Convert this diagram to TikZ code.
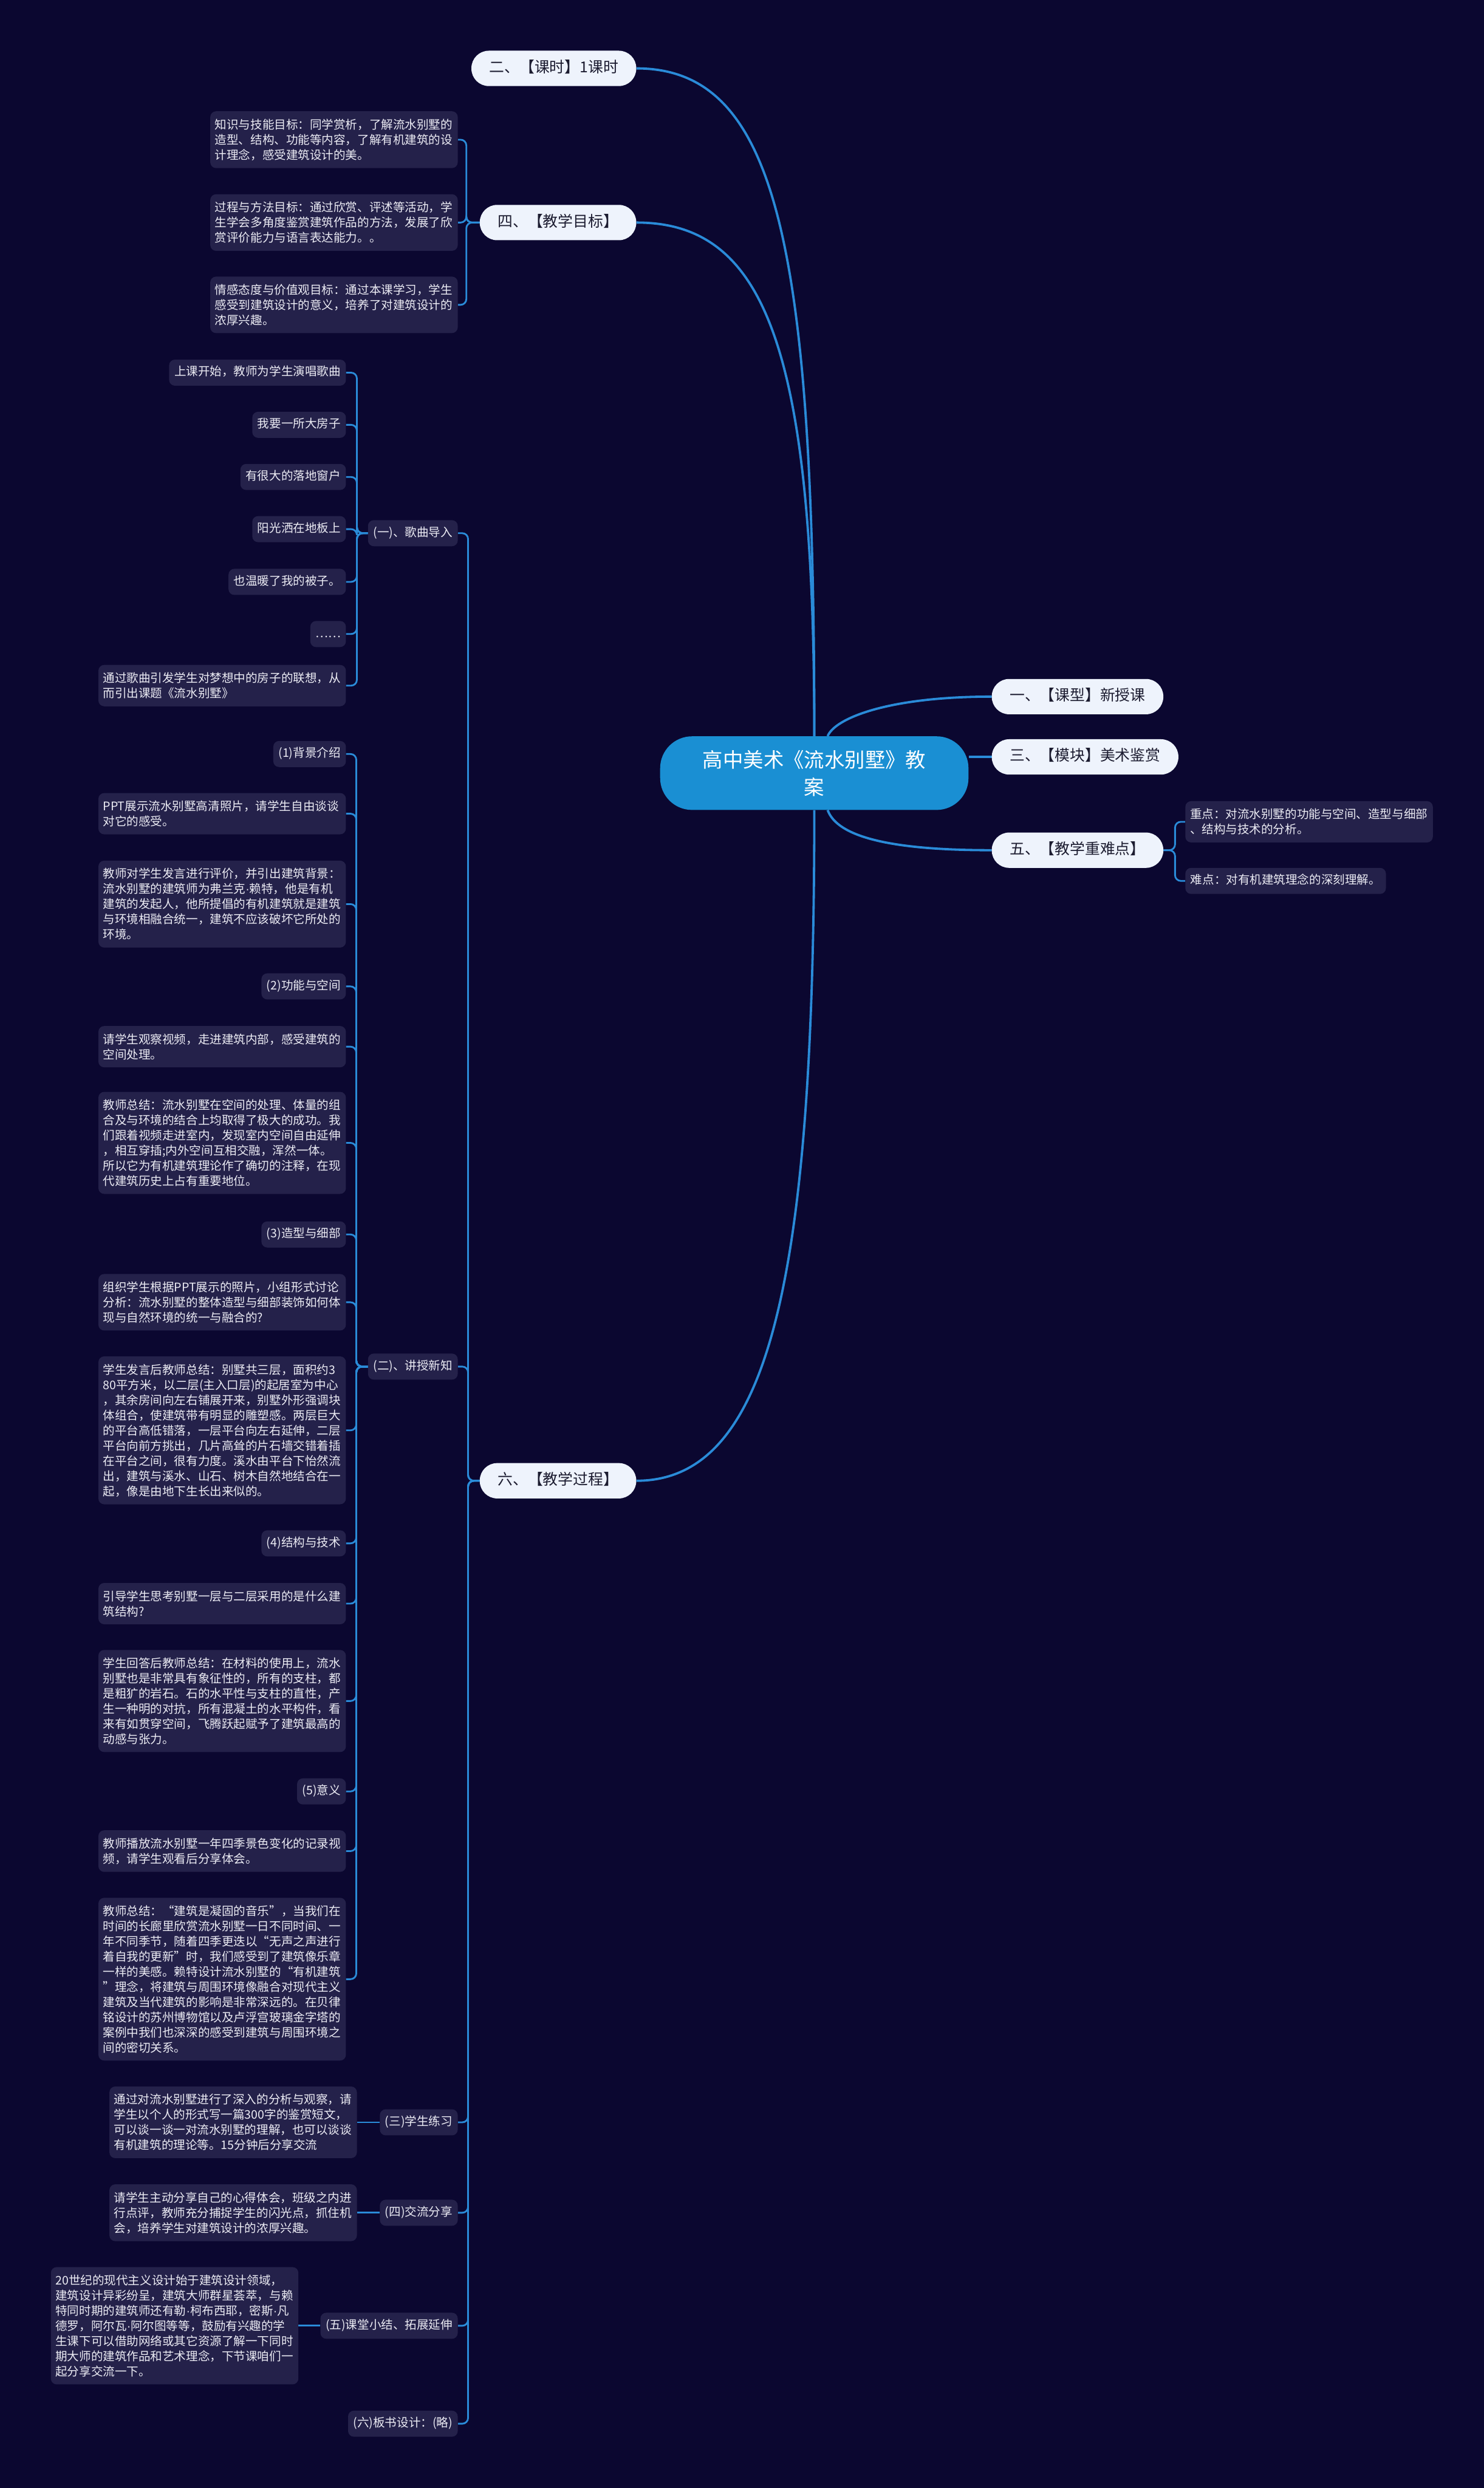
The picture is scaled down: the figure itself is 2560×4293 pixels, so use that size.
\documentclass[tikz,border=0pt]{standalone}
\usepackage{fontspec}
\setmainfont{Noto Sans CJK SC}
\newfontfamily\latinf{Liberation Sans}
\newcommand{\mdot}{{\latinf ·}}
\usetikzlibrary{backgrounds}
\definecolor{bgc}{HTML}{0B0730}
\definecolor{boxc}{HTML}{24214A}
\definecolor{linec}{HTML}{2A8BD8}
\definecolor{rootc}{HTML}{1A8FD3}
\definecolor{pillc}{HTML}{EEF3FC}
\definecolor{pilltxt}{HTML}{1C1C30}
\definecolor{boxtxt}{HTML}{ECECF4}
\tikzset{
 conn/.style={draw=linec, line width=3pt, rounded corners=10pt},
 conn0/.style={draw=linec, line width=4pt},
 rootbox/.style={fill=rootc, text=white, rounded corners=55pt, minimum width=532pt, minimum height=127pt, align=center, font=\fontsize{35}{47}\selectfont},
 pill/.style={fill=pillc, text=pilltxt, rounded corners=30pt, minimum height=61pt, inner xsep=31pt, inner ysep=0pt, text height=19pt, text depth=5pt, font=\fontsize{26}{30}\selectfont},
 lbl/.style={fill=boxc, text=boxtxt, rounded corners=10pt, inner xsep=9pt, inner ysep=12.5pt, text height=15.5pt, text depth=4.5pt, font=\fontsize{20.5}{26.2}\selectfont},
 para/.style={fill=boxc, text=boxtxt, rounded corners=10pt, inner xsep=8pt, inner ysep=13pt, text width=411pt, align=left, font=\fontsize{20.5}{26.2}\selectfont},
}
\begin{document}
\begin{tikzpicture}[x=1pt,y=-1pt]
\useasboundingbox (0,0) rectangle (2560,4293);
% level 0 and 1
\node[rootbox] (root) at (1405,1334) {高中美术《流水别墅》教\\案};
\node[pill, anchor=east] (p2) at (1098,118) {二、【课时】1课时};
\node[pill, anchor=east] (p4) at (1098,384) {四、【教学目标】};
\node[pill, anchor=east] (p6) at (1098,2555) {六、【教学过程】};
\node[pill, anchor=west] (p1) at (1711,1202) {一、【课型】新授课};
\node[pill, anchor=west] (p3) at (1711,1306) {三、【模块】美术鉴赏};
\node[pill, anchor=west] (p5) at (1711,1467) {五、【教学重难点】};
% right children
\node[para, anchor=west] (f1) at (2045,1418) {重点：对流水别墅的功能与空间、造型与细部\\、结构与技术的分析。};
\node[lbl, anchor=west] (f2) at (2045,1520) {难点：对有机建筑理念的深刻理解。};
% goals
\node[para, anchor=east] (k1) at (790,241) {知识与技能目标：同学赏析，了解流水别墅的\\造型、结构、功能等内容，了解有机建筑的设\\计理念，感受建筑设计的美。};
\node[para, anchor=east] (k2) at (790,384) {过程与方法目标：通过欣赏、评述等活动，学\\生学会多角度鉴赏建筑作品的方法，发展了欣\\赏评价能力与语言表达能力。。};
\node[para, anchor=east] (k3) at (790,526) {情感态度与价值观目标：通过本课学习，学生\\感受到建筑设计的意义，培养了对建筑设计的\\浓厚兴趣。};
% song intro
\node[lbl, anchor=east] (g1) at (790,920) {(一)、歌曲导入};
\node[lbl, anchor=east] (s1) at (597,643) {上课开始，教师为学生演唱歌曲};
\node[lbl, anchor=east] (s2) at (597,733) {我要一所大房子};
\node[lbl, anchor=east] (s3) at (597,823) {有很大的落地窗户};
\node[lbl, anchor=east] (s4) at (597,913) {阳光洒在地板上};
\node[lbl, anchor=east] (s5) at (597,1004) {也温暖了我的被子。};
\node[lbl, anchor=east] (s6) at (597,1094) {……};
\node[para, anchor=east] (s7) at (597,1183) {通过歌曲引发学生对梦想中的房子的联想，从\\而引出课题《流水别墅》};
% new knowledge
\node[lbl, anchor=east] (g2) at (790,2358) {(二)、讲授新知};
\node[lbl, anchor=east] (b1) at (597,1301) {(1)背景介绍};
\node[para, anchor=east] (b2) at (597,1404) {PPT展示流水别墅高清照片，请学生自由谈谈\\对它的感受。};
\node[para, anchor=east] (b3) at (597,1560) {教师对学生发言进行评价，并引出建筑背景：\\流水别墅的建筑师为弗兰克\mdot 赖特，他是有机\\建筑的发起人，他所提倡的有机建筑就是建筑\\与环境相融合统一，建筑不应该破坏它所处的\\环境。};
\node[lbl, anchor=east] (b4) at (597,1702) {(2)功能与空间};
\node[para, anchor=east] (b5) at (597,1806) {请学生观察视频，走进建筑内部，感受建筑的\\空间处理。};
\node[para, anchor=east] (b6) at (597,1972) {教师总结：流水别墅在空间的处理、体量的组\\合及与环境的结合上均取得了极大的成功。我\\们跟着视频走进室内，发现室内空间自由延伸\\，相互穿插;内外空间互相交融，浑然一体。\\所以它为有机建筑理论作了确切的注释，在现\\代建筑历史上占有重要地位。};
\node[lbl, anchor=east] (b7) at (597,2130) {(3)造型与细部};
\node[para, anchor=east] (b8) at (597,2247) {组织学生根据PPT展示的照片，小组形式讨论\\分析：流水别墅的整体造型与细部装饰如何体\\现与自然环境的统一与融合的?};
\node[para, anchor=east] (b9) at (597,2468) {学生发言后教师总结：别墅共三层，面积约3\\80平方米，以二层(主入口层)的起居室为中心\\，其余房间向左右铺展开来，别墅外形强调块\\体组合，使建筑带有明显的雕塑感。两层巨大\\的平台高低错落，一层平台向左右延伸，二层\\平台向前方挑出，几片高耸的片石墙交错着插\\在平台之间，很有力度。溪水由平台下怡然流\\出，建筑与溪水、山石、树木自然地结合在一\\起，像是由地下生长出来似的。};
\node[lbl, anchor=east] (b10) at (597,2663) {(4)结构与技术};
\node[para, anchor=east] (b11) at (597,2767) {引导学生思考别墅一层与二层采用的是什么建\\筑结构?};
\node[para, anchor=east] (b12) at (597,2935) {学生回答后教师总结：在材料的使用上，流水\\别墅也是非常具有象征性的，所有的支柱，都\\是粗犷的岩石。石的水平性与支柱的直性，产\\生一种明的对抗，所有混凝土的水平构件，看\\来有如贯穿空间，飞腾跃起赋予了建筑最高的\\动感与张力。};
\node[lbl, anchor=east] (b13) at (597,3091) {(5)意义};
\node[para, anchor=east] (b14) at (597,3194) {教师播放流水别墅一年四季景色变化的记录视\\频，请学生观看后分享体会。};
\node[para, anchor=east] (b15) at (597,3415) {教师总结：“建筑是凝固的音乐”，当我们在\\时间的长廊里欣赏流水别墅一日不同时间、一\\年不同季节，随着四季更迭以“无声之声进行\\着自我的更新”时，我们感受到了建筑像乐章\\一样的美感。赖特设计流水别墅的“有机建筑\\”理念，将建筑与周围环境像融合对现代主义\\建筑及当代建筑的影响是非常深远的。在贝律\\铭设计的苏州博物馆以及卢浮宫玻璃金字塔的\\案例中我们也深深的感受到建筑与周围环境之\\间的密切关系。};
% remaining steps
\node[lbl, anchor=east] (g3) at (790,3662) {(三)学生练习};
\node[para, anchor=east] (c3) at (616,3662) {通过对流水别墅进行了深入的分析与观察，请\\学生以个人的形式写一篇300字的鉴赏短文，\\可以谈一谈一对流水别墅的理解，也可以谈谈\\有机建筑的理论等。15分钟后分享交流};
\node[lbl, anchor=east] (g4) at (790,3818) {(四)交流分享};
\node[para, anchor=east] (c4) at (616,3818) {请学生主动分享自己的心得体会，班级之内进\\行点评，教师充分捕捉学生的闪光点，抓住机\\会，培养学生对建筑设计的浓厚兴趣。};
\node[lbl, anchor=east] (g5) at (790,4013) {(五)课堂小结、拓展延伸};
\node[para, anchor=east] (c5) at (515,4013) {20世纪的现代主义设计始于建筑设计领域，\\建筑设计异彩纷呈，建筑大师群星荟萃，与赖\\特同时期的建筑师还有勒\mdot 柯布西耶，密斯\mdot 凡\\德罗，阿尔瓦\mdot 阿尔图等等，鼓励有兴趣的学\\生课下可以借助网络或其它资源了解一下同时\\期大师的建筑作品和艺术理念，下节课咱们一\\起分享交流一下。};
\node[lbl, anchor=east] (g6) at (790,4182) {(六)板书设计：(略)};
% connectors
\begin{pgfonlayer}{background}
\fill[bgc] (0,0) rectangle (2560,4293);
\draw[conn0] (root.north) .. controls (1405,420) and (1340,118) .. (p2.east);
\draw[conn0] (root.north) .. controls (1405,600) and (1320,384) .. (p4.east);
\draw[conn0] (root.south) .. controls (1405,2200) and (1330,2555) .. (p6.east);
\draw[conn0] ([xshift=23pt]root.north) .. controls (1440,1240) and (1530,1202) .. (p1.west);
\draw[conn0] ([yshift=28pt]root.east) -- (p3.west);
\draw[conn0] ([xshift=23pt]root.south) .. controls (1445,1445) and (1540,1467) .. (p5.west);
\foreach \c in {k1,k2,k3} \draw[conn] (p4.west) -- ++(-23,0) |- (\c.east);
\foreach \c in {f1,f2} \draw[conn] (p5.east) -- ++(20,0) |- (\c.west);
\foreach \c in {s1,s2,s3,s4,s5,s6,s7} \draw[conn] (g1.west) -- ++(-19,0) |- (\c.east);
\foreach \c in {b1,b2,b3,b4,b5,b6,b7,b8,b9,b10,b11,b12,b13,b14,b15} \draw[conn] (g2.west) -- ++(-20,0) |- (\c.east);
\foreach \c in {g1,g2,g3,g4,g5,g6} \draw[conn] (p6.west) -- ++(-20,0) |- (\c.east);
\draw[conn] (g3.west) -- (c3.east);
\draw[conn] (g4.west) -- (c4.east);
\draw[conn] (g5.west) -- (c5.east);
\end{pgfonlayer}
\end{tikzpicture}
\end{document}
